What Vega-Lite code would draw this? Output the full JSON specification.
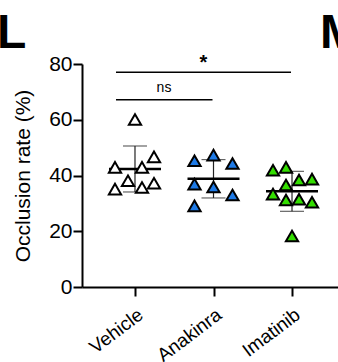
{
  "$schema": "https://vega.github.io/schema/vega-lite/v6.json",
  "autosize": {"type": "none"},
  "padding": {"left": 82, "top": 64, "right": 0, "bottom": 75},
  "width": 263,
  "height": 223,
  "config": {
    "font": "Liberation Sans",
    "view": {"stroke": null},
    "axis": {"grid": false, "domainColor": "black", "tickColor": "black", "domainWidth": 2, "tickWidth": 2, "labelColor": "black", "titleColor": "black", "labelFont": "Liberation Sans", "titleFont": "Liberation Sans"}
  },
  "datasets": {
    "pts": [
      {"group": "Vehicle", "value": 60.1, "jit": 0},
      {"group": "Vehicle", "value": 46.7, "jit": 19},
      {"group": "Vehicle", "value": 42.9, "jit": -20},
      {"group": "Vehicle", "value": 42.9, "jit": 7},
      {"group": "Vehicle", "value": 38.1, "jit": -7},
      {"group": "Vehicle", "value": 35.1, "jit": -20},
      {"group": "Vehicle", "value": 35.7, "jit": 7},
      {"group": "Vehicle", "value": 37.2, "jit": 19},
      {"group": "Anakinra", "value": 45.3, "jit": -19},
      {"group": "Anakinra", "value": 47.3, "jit": 0},
      {"group": "Anakinra", "value": 44.3, "jit": 19},
      {"group": "Anakinra", "value": 36.9, "jit": -19},
      {"group": "Anakinra", "value": 35.9, "jit": 0},
      {"group": "Anakinra", "value": 33.0, "jit": 19},
      {"group": "Anakinra", "value": 29.1, "jit": -19},
      {"group": "Imatinib", "value": 41.9, "jit": -19},
      {"group": "Imatinib", "value": 42.9, "jit": -6},
      {"group": "Imatinib", "value": 38.4, "jit": 7},
      {"group": "Imatinib", "value": 38.7, "jit": 20},
      {"group": "Imatinib", "value": 36.6, "jit": -6},
      {"group": "Imatinib", "value": 33.3, "jit": -19},
      {"group": "Imatinib", "value": 31.2, "jit": -6},
      {"group": "Imatinib", "value": 31.5, "jit": 7},
      {"group": "Imatinib", "value": 30.4, "jit": 20},
      {"group": "Imatinib", "value": 18.3, "jit": 0}
    ],
    "sig": [
      {"from": "Vehicle", "to": "Imatinib", "y": 77, "label": "*", "mid": "Anakinra", "ly": 80.5},
      {"from": "Vehicle", "to": "Anakinra", "y": 67.2, "label": "ns", "mid": "Vehicle", "ly": 71.3}
    ],
    "panel": [
      {"label": "L", "group": "Vehicle", "y": 85.7},
      {"label": "M", "group": "Imatinib", "y": 85.7}
    ]
  },
  "encoding": {
    "x": {
      "field": "group", "type": "nominal",
      "scale": {"type": "point", "domain": ["Vehicle", "Anakinra", "Imatinib"], "padding": 0.675},
      "axis": {"title": null, "labelAngle": -37, "labelFontSize": 19, "tickSize": 9, "labelPadding": 9}
    }
  },
  "layer": [
    {
      "data": {"name": "pts"},
      "mark": {"type": "errorbar", "extent": "stdev", "color": "#222", "thickness": 1.2, "ticks": {"size": 24, "color": "#222", "thickness": 1.2}},
      "encoding": {
        "y": {
          "field": "value", "type": "quantitative",
          "scale": {"domain": [0, 80]},
          "axis": {"values": [0, 20, 40, 60, 80], "title": "Occlusion rate (%)", "titleFontSize": 21, "titleFontWeight": "normal", "labelFontSize": 21, "tickSize": 9, "labelPadding": 1, "titlePadding": 15}
        }
      }
    },
    {
      "data": {"name": "pts"},
      "mark": {"type": "tick", "color": "black", "thickness": 2.5, "size": 52},
      "encoding": {
        "y": {"aggregate": "mean", "field": "value", "type": "quantitative"}
      }
    },
    {
      "data": {"name": "pts"},
      "mark": {"type": "point", "shape": "triangle-up", "filled": true, "size": 150, "stroke": "black", "strokeWidth": 2, "opacity": 1},
      "encoding": {
        "xOffset": {"field": "jit", "type": "quantitative", "scale": {"domain": [-20, 20], "range": [-20, 20]}},
        "y": {"field": "value", "type": "quantitative"},
        "fill": {"field": "group", "type": "nominal", "scale": {"domain": ["Vehicle", "Anakinra", "Imatinib"], "range": ["white", "#1e7ae6", "#33dd00"]}, "legend": null}
      }
    },
    {
      "data": {"name": "sig"},
      "mark": {"type": "rule", "color": "black", "strokeWidth": 1.5, "xOffset": -19, "x2Offset": -1, "clip": false},
      "encoding": {
        "x": {"field": "from", "type": "nominal"},
        "x2": {"field": "to"},
        "y": {"field": "y", "type": "quantitative"}
      }
    },
    {
      "data": {"name": "sig"},
      "transform": [{"filter": "datum.label == '*'"}],
      "mark": {"type": "text", "fontSize": 20, "fontWeight": "bold", "dx": -10, "baseline": "middle", "color": "black", "clip": false},
      "encoding": {
        "x": {"field": "mid", "type": "nominal"},
        "y": {"field": "ly", "type": "quantitative"},
        "text": {"field": "label"}
      }
    },
    {
      "data": {"name": "sig"},
      "transform": [{"filter": "datum.label == 'ns'"}],
      "mark": {"type": "text", "fontSize": 14, "dx": 29, "baseline": "middle", "color": "black", "clip": false},
      "encoding": {
        "x": {"field": "mid", "type": "nominal"},
        "y": {"field": "ly", "type": "quantitative"},
        "text": {"field": "label"}
      }
    },
    {
      "data": {"name": "panel"},
      "transform": [{"filter": "datum.label == 'L'"}],
      "mark": {"type": "text", "fontSize": 48, "fontWeight": "bold", "dx": -138, "align": "left", "baseline": "alphabetic", "color": "black", "clip": false},
      "encoding": {
        "x": {"field": "group", "type": "nominal"},
        "y": {"field": "y", "type": "quantitative"},
        "text": {"field": "label"}
      }
    },
    {
      "data": {"name": "panel"},
      "transform": [{"filter": "datum.label == 'M'"}],
      "mark": {"type": "text", "fontSize": 48, "fontWeight": "bold", "dx": 28, "align": "left", "baseline": "alphabetic", "color": "black", "clip": false},
      "encoding": {
        "x": {"field": "group", "type": "nominal"},
        "y": {"field": "y", "type": "quantitative"},
        "text": {"field": "label"}
      }
    }
  ]
}
